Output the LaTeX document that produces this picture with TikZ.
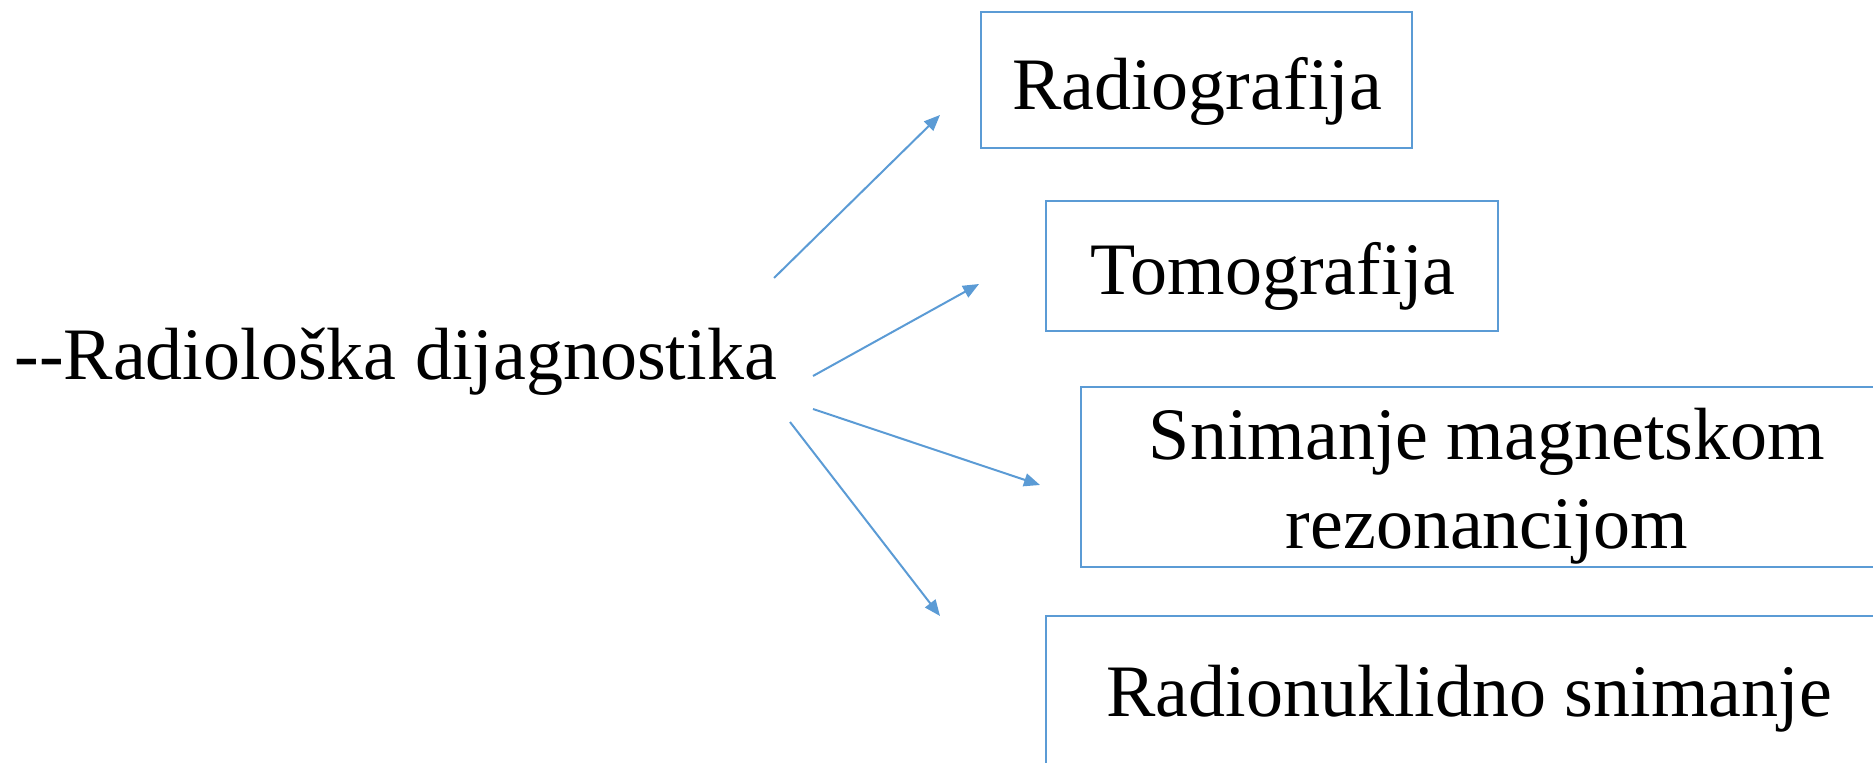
\documentclass[tikz,border=0pt]{standalone}
\usepackage{fontspec}
\setmainfont{Liberation Serif}
\usetikzlibrary{arrows.meta}
\definecolor{lineblue}{RGB}{91,155,213}
\tikzset{
  boxstyle/.style={draw=lineblue, line width=1pt},
  lbl/.style={inner sep=0pt, font=\fontsize{37}{44}\selectfont, anchor=base},
  arr/.style={draw=lineblue, line width=1pt, -{Triangle[length=8pt,width=6.5pt]}}
}
\begin{document}
\begin{tikzpicture}[x=0.5pt,y=-0.5pt]
\useasboundingbox (0,0) rectangle (1873,763);
\clip (0,0) rectangle (1873,763);
% boxes
\draw[boxstyle] (981,12) rectangle (1412,148);
\draw[boxstyle] (1046,201) rectangle (1498,331);
\draw[boxstyle] (1081,387) rectangle (1893,567);
\draw[boxstyle] (1046,616) rectangle (1892,790);
% texts
\node[lbl, anchor=base west] (src) at (14,380) {-{}-Radiološka dijagnostika};
\node[lbl] (t1) at (1197,110) {Radiografija};
\node[lbl] (t2) at (1273,295) {Tomografija};
\node[lbl] (t3a) at (1487,460) {Snimanje magnetskom};
\node[lbl] (t3b) at (1487,549) {rezonancijom};
\node[lbl] (t4) at (1469,717) {Radionuklidno snimanje};
% arrow end points
\coordinate (s1) at (774,278);
\coordinate (e1) at (940,115);
\coordinate (s2) at (813,376);
\coordinate (e2) at (979,284);
\coordinate (s3) at (813,409);
\coordinate (e3) at (1040,485);
\coordinate (s4) at (790,422);
\coordinate (e4) at (940,616);
\draw[arr] (s1) -- (e1);
\draw[arr] (s2) -- (e2);
\draw[arr] (s3) -- (e3);
\draw[arr] (s4) -- (e4);
\end{tikzpicture}
\end{document}
